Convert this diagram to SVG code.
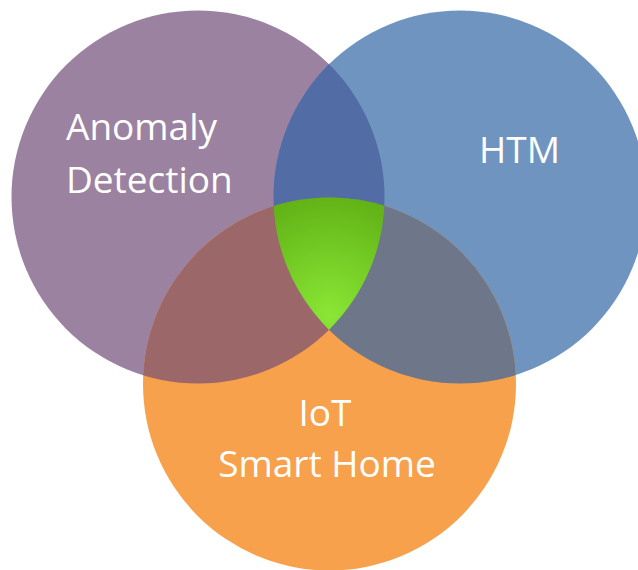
<svg xmlns="http://www.w3.org/2000/svg" width="638" height="570" viewBox="0 0 638 570">
  <style>
    .label { font-family: "Open Sans", "Liberation Sans", sans-serif; font-size: 37px; fill: #ffffff; }
    .mid { text-anchor: middle; }
  </style>
  <defs>
    <clipPath id="clipAD"><circle cx="198" cy="197" r="186.5"/></clipPath>
    <clipPath id="clipHTM"><circle cx="460" cy="197" r="186.5"/></clipPath>
    <clipPath id="clipIoT"><circle cx="329.5" cy="384" r="186.5"/></clipPath>
    <radialGradient id="core" gradientUnits="userSpaceOnUse" cx="329" cy="305" r="120" fx="329" fy="315">
      <stop offset="0" stop-color="#8AE636"/>
      <stop offset="0.55" stop-color="#72C822"/>
      <stop offset="1" stop-color="#5EAE14"/>
    </radialGradient>
  </defs>

  <!-- base circles -->
  <g id="anomaly-detection">
    <circle cx="198" cy="197" r="186.5" fill="#9B82A0"/>
  </g>
  <g id="htm">
    <circle cx="460" cy="197" r="186.5" fill="#6F94C0"/>
  </g>
  <g id="iot-smart-home">
    <circle cx="329.5" cy="384" r="186.5" fill="#F7A14C"/>
  </g>

  <!-- pairwise overlaps and the shared core -->
  <g id="overlaps">
    <circle cx="198" cy="197" r="186.5" fill="#526CA5" clip-path="url(#clipHTM)"/>
    <circle cx="198" cy="197" r="186.5" fill="#9B6769" clip-path="url(#clipIoT)"/>
    <circle cx="460" cy="197" r="186.5" fill="#6E7689" clip-path="url(#clipIoT)"/>
    <g clip-path="url(#clipIoT)">
      <circle cx="198" cy="197" r="186.5" fill="url(#core)" clip-path="url(#clipHTM)"/>
    </g>
  </g>

  <!-- labels -->
  <g id="labels">
    <text class="label" x="66" y="140">Anomaly</text>
    <text class="label" x="66" y="193">Detection</text>
    <text class="label mid" x="519.5" y="163">HTM</text>
    <text class="label mid" x="325" y="426">IoT</text>
    <text class="label mid" x="327" y="477">Smart Home</text>
  </g>
</svg>
